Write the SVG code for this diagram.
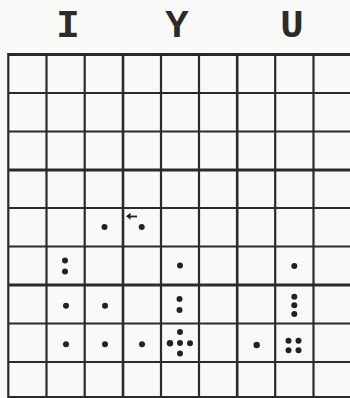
<svg xmlns="http://www.w3.org/2000/svg" width="350" height="398" viewBox="0 0 350 398">
  <style>
    .grid line { stroke: #2b2b2b; stroke-width: 2.2; }
    .lbl { font-family: "Courier New", "Liberation Mono", monospace; font-size: 39px; font-weight: bold; fill: #2b2b2b; text-anchor: middle; }
    .dot { fill: #222; }
  </style>
  <rect width="350" height="398" fill="#f9f9f7"/>
  <g id="labels">
    <text class="lbl" x="68" y="37">I</text>
    <text class="lbl" x="177" y="37">Y</text>
    <text class="lbl" x="292" y="37">U</text>
  </g>
  <g id="grid" class="grid">
    <line x1="8" y1="54.5" x2="350" y2="54.5" style="stroke-width:3"/>
    <line x1="8" y1="93" x2="350" y2="93"/>
    <line x1="8" y1="131.5" x2="350" y2="131.5"/>
    <line x1="8" y1="170" x2="350" y2="170" style="stroke-width:2.8"/>
    <line x1="8" y1="208" x2="350" y2="208"/>
    <line x1="8" y1="246.5" x2="350" y2="246.5"/>
    <line x1="8" y1="285" x2="350" y2="285" style="stroke-width:2.8"/>
    <line x1="8" y1="323.5" x2="350" y2="323.5"/>
    <line x1="8" y1="362" x2="350" y2="362"/>
    <line x1="8" y1="397" x2="350" y2="397"/>
    <line x1="8.3" y1="53" x2="8.3" y2="398"/>
    <line x1="46.5" y1="53" x2="46.5" y2="398"/>
    <line x1="84.7" y1="53" x2="84.7" y2="398"/>
    <line x1="123" y1="53" x2="123" y2="398" style="stroke-width:2.6"/>
    <line x1="161" y1="53" x2="161" y2="398"/>
    <line x1="199" y1="53" x2="199" y2="398"/>
    <line x1="237.2" y1="53" x2="237.2" y2="398" style="stroke-width:2.6"/>
    <line x1="275.2" y1="53" x2="275.2" y2="398"/>
    <line x1="313.5" y1="53" x2="313.5" y2="398"/>
  </g>
  <g id="col-I">
    <circle class="dot" cx="104.5" cy="227" r="3"/>
    <circle class="dot" cx="65" cy="260.5" r="3"/>
    <circle class="dot" cx="65" cy="271.5" r="3"/>
    <circle class="dot" cx="66" cy="305.7" r="3"/>
    <circle class="dot" cx="105" cy="305.7" r="3"/>
    <circle class="dot" cx="66" cy="344.3" r="3"/>
    <circle class="dot" cx="105" cy="344.3" r="3"/>
    <circle class="dot" cx="142" cy="344.3" r="3"/>
  </g>
  <g id="arrow-cell">
    <circle class="dot" cx="141.7" cy="227" r="3"/>
    <path d="M137 216.5 H128.5" stroke="#222" stroke-width="1.8" fill="none"/>
    <path d="M126 216.3 L130.5 212.8 L130.5 219.8 Z" fill="#222"/>
  </g>
  <g id="col-Y">
    <circle class="dot" cx="180" cy="265.5" r="3"/>
    <circle class="dot" cx="179.5" cy="299" r="3"/>
    <circle class="dot" cx="179.5" cy="310" r="3"/>
    <circle class="dot" cx="180" cy="332" r="3"/>
    <circle class="dot" cx="170" cy="343.3" r="3.2"/>
    <circle class="dot" cx="180" cy="343" r="3"/>
    <circle class="dot" cx="190" cy="343.3" r="3"/>
    <circle class="dot" cx="180" cy="353.5" r="3"/>
  </g>
  <g id="col-U">
    <circle class="dot" cx="294.3" cy="266" r="3"/>
    <circle class="dot" cx="294.3" cy="296.7" r="3"/>
    <circle class="dot" cx="294.3" cy="305.3" r="3"/>
    <circle class="dot" cx="294.3" cy="314" r="3"/>
    <circle class="dot" cx="256.7" cy="345" r="3.2"/>
    <circle class="dot" cx="288.5" cy="340.7" r="3"/>
    <circle class="dot" cx="298.5" cy="340.7" r="3"/>
    <circle class="dot" cx="288.5" cy="350.3" r="3"/>
    <circle class="dot" cx="298.5" cy="350.3" r="3"/>
  </g>
</svg>
